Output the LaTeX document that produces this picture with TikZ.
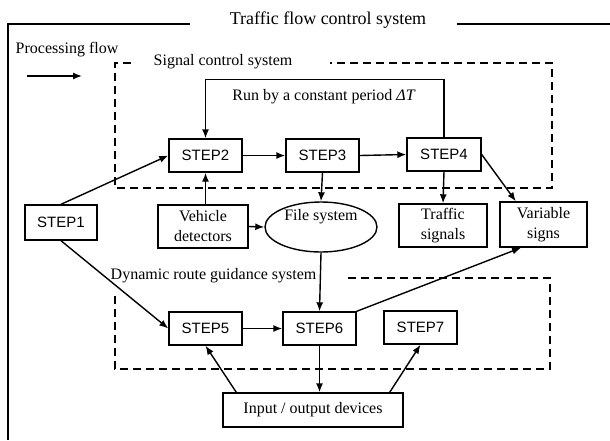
\documentclass[tikz,border=0pt]{standalone}
\usepackage{fontspec}
\setmainfont{Liberation Serif}
\newfontfamily\stepfont{Liberation Sans}
\usetikzlibrary{arrows.meta, shapes.geometric}

\tikzset{
    stepbox/.style={draw, minimum width=73pt, minimum height=33pt, inner sep=0pt, font=\stepfont\fontsize{15}{18}\selectfont},
    devbox/.style={draw, inner sep=0pt, align=center, font=\fontsize{16}{20}\selectfont},
    lbl/.style={inner sep=0pt, font=\fontsize{16}{20}\selectfont},
    sysbox/.style={dash pattern=on 8pt off 5pt},
}

\begin{document}
\begin{tikzpicture}[x=1pt, y=-1pt, line width=1.4pt, >={Latex[length=9pt, width=7pt]}]
    \useasboundingbox (0, 0) rectangle (610, 440);
    \node[inner sep=0pt, font=\fontsize{18}{22}\selectfont] (title) at (328, 20) {Traffic flow control system};
    \draw (190, 24) -- (8, 24) -- (8, 440);
    \draw (457, 24) -- (610, 24);
    \node[lbl, anchor=west] (proc) at (15, 50) {Processing flow};
    \coordinate (pa) at (27, 76);
    \coordinate (pb) at (82, 76);
    \draw[->] (pa) -- (pb);
    \node[lbl, anchor=west] (sig) at (153, 62) {Signal control system};
    \node[lbl, anchor=west] (drg) at (110, 276) {Dynamic route guidance system};
    \node[lbl] (run) at (324, 97) {Run by a constant period \textit{ΔT}};
    \draw[sysbox] (131, 63) -- (115, 63) -- (115, 188) -- (552, 188) -- (552, 63) -- (330, 63);
    \draw[sysbox] (348, 278) -- (550, 278) -- (550, 369) -- (115, 369) -- (115, 295);
    \node[stepbox, minimum width=72pt, minimum height=35pt] (step1) at (61, 222.5) {STEP1};
    \node[stepbox] (step2) at (205.5, 155.5) {STEP2};
    \node[stepbox] (step3) at (322.5, 155.5) {STEP3};
    \node[stepbox, minimum width=74pt] (step4) at (444, 154.5) {STEP4};
    \node[stepbox] (step5) at (205.5, 328.5) {STEP5};
    \node[stepbox] (step6) at (319.5, 328.5) {STEP6};
    \node[stepbox] (step7) at (420.5, 327.5) {STEP7};
    \node[devbox, minimum width=90pt, minimum height=43pt] (vd) at (203, 226.5) {Vehicle\\detectors};
    \node[devbox, minimum width=88pt, minimum height=43pt] (ts) at (443, 225.5) {Traffic\\signals};
    \node[devbox, minimum width=87pt, minimum height=45pt] (vs) at (543.5, 224.5) {Variable\\signs};
    \node[devbox, minimum width=180pt, minimum height=34pt] (io) at (313, 410) {Input / output devices};
    \node[draw, ellipse, minimum width=112pt, minimum height=50pt, inner sep=0pt,
        label={[lbl, yshift=10pt]center:File system}] (fs) at (321, 227) {};
    \draw[->] (step4.north) -- ++(0, -58) -| (step2.north);
    \draw[->] (step1.north) -- (step2.west);
    \draw[->] (step1.south) -- (step5.west);
    \draw[->] (step2.east) -- (step3.west);
    \draw[->] (step3.east) -- (step4.west);
    \draw[->] (step2.south |- vd.north) -- (step2.south);
    \draw[->] (vd.east) -- (fs.west);
    \draw[->] (step3.south) -- (fs.north);
    \draw[->] (step4.south) -- (ts.north);
    \draw[->] (step4.east) -- (vs.140);
    \draw[->] (fs.south) -- (step6.north);
    \draw[->] (step5.east) -- (step6.west);
    \draw[->] (step6.north east) -- (vs.226);
    \draw[->] (step6.south) -- (step6.south |- io.north);
    \draw[->] (io.167) -- (step5.south);
    \draw[->] (io.13) -- (step7.south);
\end{tikzpicture}
\end{document}
